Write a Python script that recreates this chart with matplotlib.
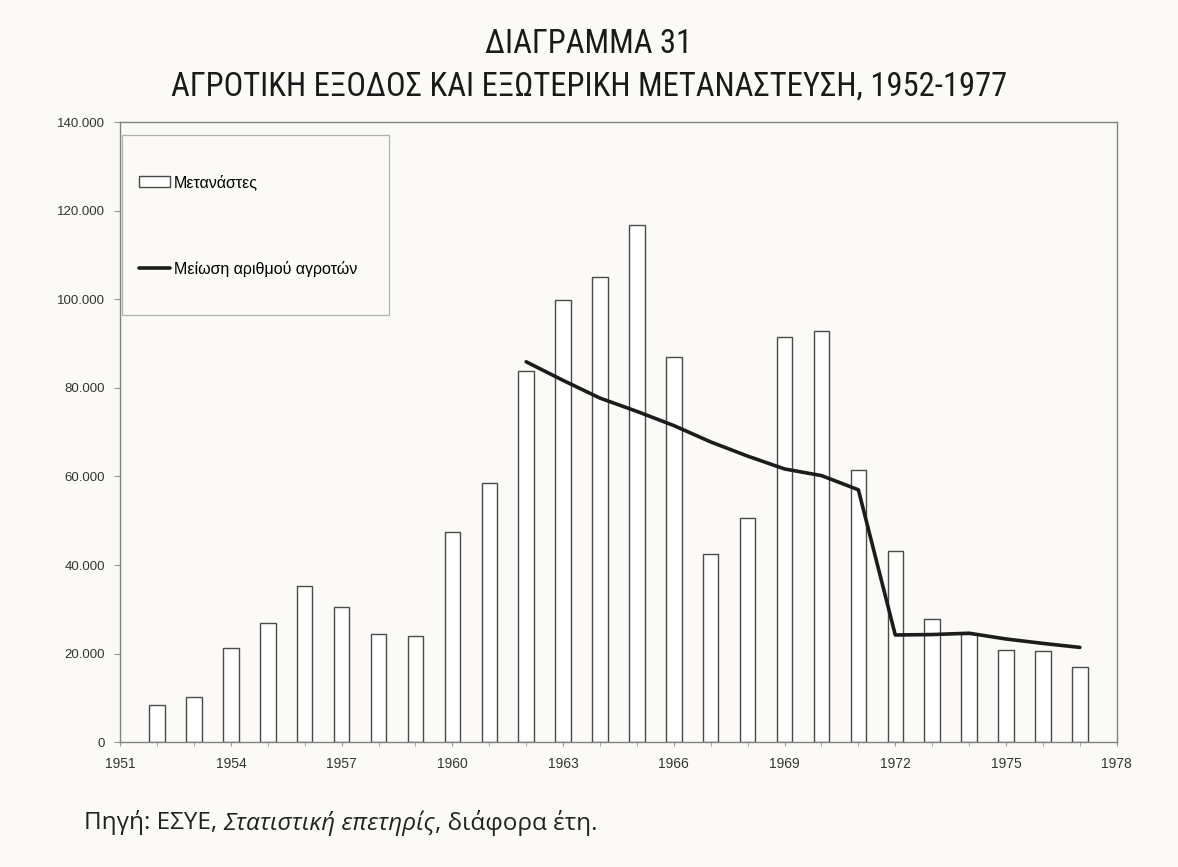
import matplotlib
matplotlib.use("Agg")
import matplotlib.pyplot as plt
from matplotlib.patches import Rectangle
from matplotlib.ticker import FixedLocator, FuncFormatter

# Δεδομένα (εκτίμηση από το διάγραμμα)
years = list(range(1952, 1978))
metanastes = [8400, 10200, 21300, 26900, 35300, 30500, 24500, 23900, 47500, 58500,
              83900, 99800, 105000, 116700, 86900, 42600, 50600, 91500, 92800, 61500,
              43200, 27700, 24500, 20700, 20600, 16900]
line_years = list(range(1962, 1978))
meiosi_agroton = [85900, 81700, 77700, 74700, 71500, 67800, 64600, 61700, 60200, 57000,
                  24200, 24300, 24600, 23300, 22300, 21400]
tick_years = list(range(1951, 1979, 3))

title1 = "ΔΙΑΓΡΑΜΜΑ 31"
title2 = "ΑΓΡΟΤΙΚΗ ΕΞΟΔΟΣ ΚΑΙ ΕΞΩΤΕΡΙΚΗ ΜΕΤΑΝΑΣΤΕΥΣΗ, 1952-1977"

bg = "#fbfaf6"
plt.rcParams['font.family'] = ['Liberation Sans', 'DejaVu Sans']

fig = plt.figure(figsize=(11.78, 8.67), dpi=100, facecolor=bg)
ax = fig.add_axes([0.102, 0.144, 0.846, 0.715])
ax.set_facecolor(bg)

# Ράβδοι μεταναστών
bars = ax.bar(years, metanastes, width=0.42, color="white", edgecolor="#4a4a4a",
              linewidth=1.0, label="Μετανάστες", zorder=2)
# Γραμμή μείωσης αγροτών
line, = ax.plot(line_years, meiosi_agroton, color="#1c1c1c", linewidth=2.6,
                label="Μείωση αριθμού αγροτών", zorder=3, solid_capstyle="round")

ax.set_xlim(1951, 1978)
ax.set_ylim(0, 140000)
ax.xaxis.set_major_locator(FixedLocator(tick_years))
ax.xaxis.set_minor_locator(FixedLocator(years))
ax.set_yticks(range(0, 140001, 20000))
ax.yaxis.set_major_formatter(FuncFormatter(lambda v, p: f"{int(v):,}".replace(",", ".")))

ax.tick_params(axis="x", which="both", direction="out", length=3, color="#999999",
               labelsize=10, labelcolor="#333333", pad=8)
ax.tick_params(axis="y", direction="out", length=4, color="#999999",
               labelsize=9.5, labelcolor="#333333", pad=7)
for sp in ax.spines.values():
    sp.set_color("#808080")
    sp.set_linewidth(1.0)

# Πλαίσιο υπομνήματος
ax.add_patch(Rectangle((0.002, 0.689), 0.268, 0.29, transform=ax.transAxes,
                       fill=False, edgecolor="#b0b0b0", linewidth=0.9, zorder=4))
ax.legend(handles=[bars, line], loc="upper left", bbox_to_anchor=(0.012, 0.926),
          frameon=False, fontsize=11.5, labelspacing=4.4, handlelength=2.0,
          handletextpad=0.2, borderaxespad=0)

# Τίτλοι
title_font = ["Roboto Condensed", "Liberation Sans Narrow", "DejaVu Sans"]
fig.text(0.5, 0.949, title1, ha="center", va="center", fontsize=23.5,
         family=title_font, color="#1a1a1a")
fig.text(0.5, 0.900, title2, ha="center", va="center", fontsize=23.5,
         family=title_font, color="#1a1a1a")

# Πηγή (με πλάγιο τίτλο)
src_font = ["Open Sans", "DejaVu Sans"]
src_y = 0.051
fig.canvas.draw()
renderer = fig.canvas.get_renderer()
t1 = fig.text(0.071, src_y, "Πηγή: ΕΣΥΕ, ", fontsize=17.5, family=src_font,
              color="#222222", va="center")
bb = t1.get_window_extent(renderer)
t2 = fig.text(bb.x1 / fig.bbox.width, src_y, "Στατιστική επετηρίς", fontsize=17.5,
              family=src_font, style="italic", color="#222222", va="center")
bb2 = t2.get_window_extent(renderer)
fig.text(bb2.x1 / fig.bbox.width, src_y, ", διάφορα έτη.", fontsize=17.5,
         family=src_font, color="#222222", va="center")

plt.savefig("out.png", dpi=100, facecolor=bg)
